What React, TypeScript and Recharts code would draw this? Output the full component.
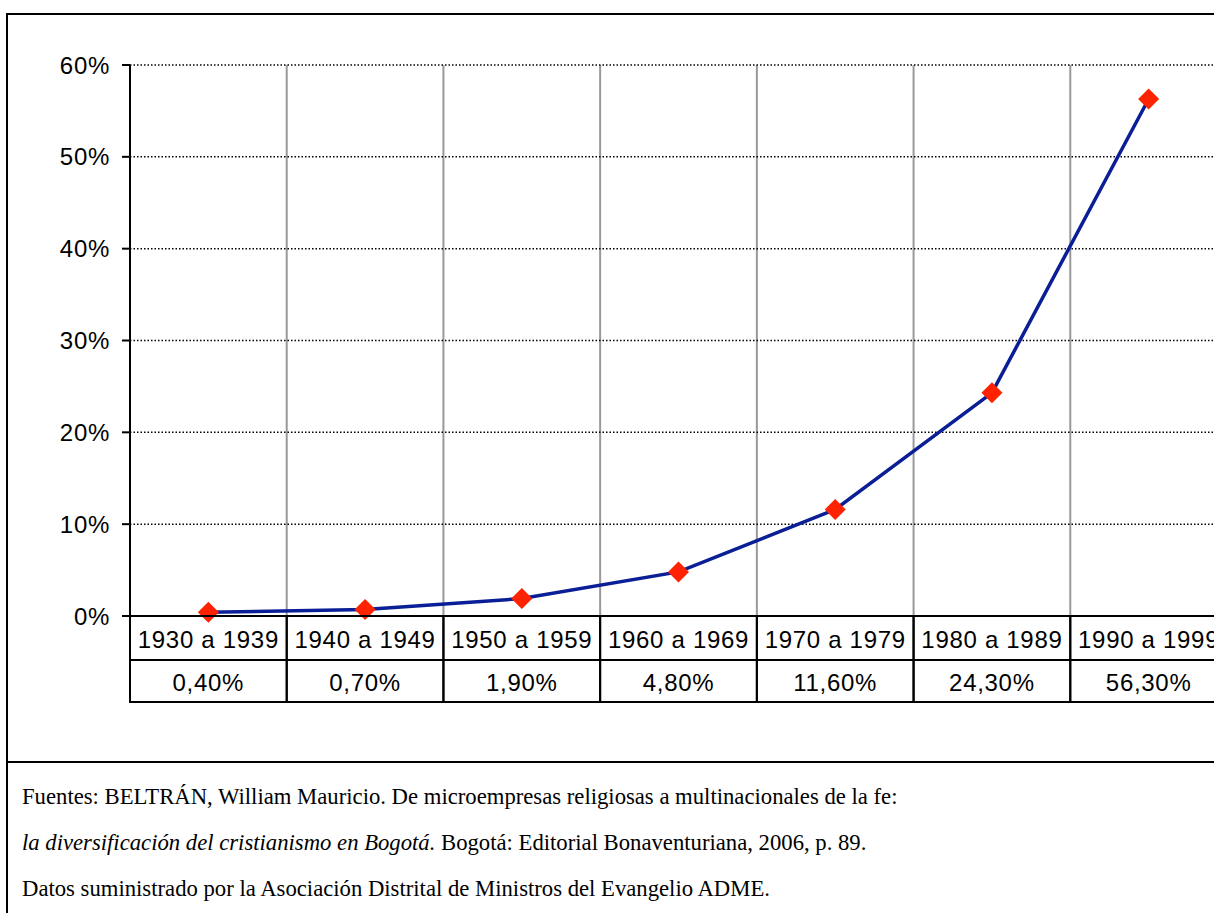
import { LineChart, Line, XAxis, YAxis, CartesianGrid } from "recharts";

const categories = ["1930 a 1939", "1940 a 1949", "1950 a 1959", "1960 a 1969", "1970 a 1979", "1980 a 1989", "1990 a 1999"];
const shares = [0.4, 0.7, 1.9, 4.8, 11.6, 24.3, 56.3];
const yTicks = [0, 10, 20, 30, 40, 50, 60];

const sourceLines = [
  "Fuentes: BELTRÁN, William Mauricio. De microempresas religiosas a multinacionales de la fe:",
  "Bogotá: Editorial Bonaventuriana, 2006, p. 89.",
  "Datos suministrado por la Asociación Distrital de Ministros del Evangelio ADME.",
];
const sourceItalic = "la diversificación del cristianismo en Bogotá.";

const data = categories.map((name, i) => ({ name, value: shares[i] }));

const CHART_W = 1240;
const CHART_H = 762;
const MARGIN = { top: 65, right: 13, bottom: 56, left: 50 };
const Y_AXIS_W = 80;
const PLOT_W = CHART_W - MARGIN.left - MARGIN.right - Y_AXIS_W;
const ROW1 = 44;
const ROW2 = 42;
const SANS = '"Liberation Sans", Arial, Helvetica, sans-serif';

const formatShare = (v: number) => `${v.toFixed(2).replace(".", ",")}%`;

function TableTick(props: any) {
  const { x, y, payload, index } = props;
  const bw = PLOT_W / categories.length;
  const left = x - bw / 2;
  return (
    <g>
      <rect x={left} y={y} width={bw} height={ROW1} fill="none" stroke="#000" strokeWidth={2} />
      <rect x={left} y={y + ROW1} width={bw} height={ROW2} fill="none" stroke="#000" strokeWidth={2} />
      <text x={x} y={y + ROW1 / 2 + 1} textAnchor="middle" dominantBaseline="central" fontFamily={SANS} fontSize={24} letterSpacing={0.7} fill="#000">
        {payload.value}
      </text>
      <text x={x} y={y + ROW1 + ROW2 / 2 + 1} textAnchor="middle" dominantBaseline="central" fontFamily={SANS} fontSize={24} letterSpacing={0.7} fill="#000">
        {formatShare(shares[index])}
      </text>
    </g>
  );
}

function Diamond(props: any) {
  const { cx, cy, index } = props;
  const r = 10.5;
  return (
    <polygon
      key={`d-${index}`}
      points={`${cx},${cy - r} ${cx + r},${cy} ${cx},${cy + r} ${cx - r},${cy}`}
      fill="#ff2200"
    />
  );
}

export default function App() {
  return (
    <div style={{ position: "fixed", left: 0, top: 0, width: 1214, height: 913, overflow: "hidden", background: "#fff" }}>
      <div
        style={{
          position: "absolute",
          left: 6,
          top: 13,
          width: 1260,
          height: 960,
          border: "2px solid #000",
          boxSizing: "border-box",
        }}
      />
      <div style={{ position: "absolute", left: 0, top: 0 }}>
        <LineChart width={CHART_W} height={CHART_H} data={data} margin={MARGIN}>
          <CartesianGrid
            horizontal={false}
            stroke="#999"
            strokeWidth={2}
            verticalCoordinatesGenerator={({ offset }: any) =>
              categories.slice(1).map((_, i) => offset.left + ((i + 1) * offset.width) / categories.length)
            }
          />
          <CartesianGrid vertical={false} stroke="#000" strokeWidth={1.5} strokeDasharray="1.5 2" />
          <XAxis
            dataKey="name"
            scale="band"
            interval={0}
            height={90}
            tickLine={false}
            tickSize={0}
            tickMargin={0}
            axisLine={{ stroke: "#000", strokeWidth: 2 }}
            tick={<TableTick />}
          />
          <YAxis
            width={Y_AXIS_W}
            domain={[0, 60]}
            ticks={yTicks}
            interval={0}
            tickSize={8}
            tickMargin={12}
            tickFormatter={(v: number) => `${v}%`}
            axisLine={{ stroke: "#000", strokeWidth: 2 }}
            tickLine={{ stroke: "#000", strokeWidth: 2 }}
            tick={{ fill: "#000", fontSize: 24, fontFamily: SANS, letterSpacing: 0.7 }}
          />
          <Line
            type="linear"
            dataKey="value"
            stroke="#0a1e96"
            strokeWidth={3.5}
            dot={<Diamond />}
            activeDot={false}
            isAnimationActive={false}
          />
        </LineChart>
      </div>
      <div style={{ position: "absolute", left: 6, top: 761, width: 1260, height: 2, background: "#000" }} />
      <div
        style={{
          position: "absolute",
          left: 22,
          top: 774,
          fontFamily: '"Liberation Serif", "Times New Roman", serif',
          fontSize: 22.7,
          lineHeight: "46px",
          color: "#000",
          whiteSpace: "nowrap",
        }}
      >
        <div>{sourceLines[0]}</div>
        <div>
          <i>{sourceItalic}</i> {sourceLines[1]}
        </div>
        <div>{sourceLines[2]}</div>
      </div>
    </div>
  );
}
